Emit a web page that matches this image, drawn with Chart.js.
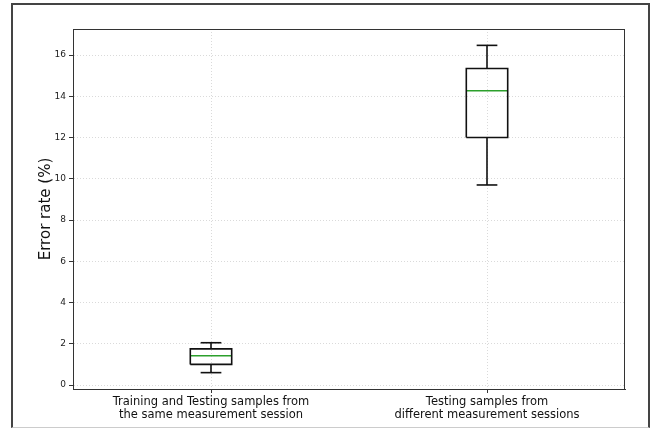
<!DOCTYPE html>
<html>
<head>
<meta charset="utf-8">
<script src="https://cdn.jsdelivr.net/npm/chart.js@4.4.0/dist/chart.umd.min.js"></script>
<style>
  html, body { margin: 0; padding: 0; background: #fff; }
  #wrap { position: relative; width: 655px; height: 430px; overflow: hidden; }
  #frame { position: absolute; left: 11px; top: 3px; width: 635px; height: 422px;
           border: 2px solid #444; border-bottom: 1px solid #ccc; }
  #boxChart { position: absolute; left: 0; top: 0; }
</style>
</head>
<body>
<div id="wrap">
  <div id="frame"></div>
  <canvas id="boxChart" width="655" height="430"></canvas>
</div>
<script>
// Box plot summary values
const categories = [
    ["Training and Testing samples from", "the same measurement session"],
    ["Testing samples from", "different measurement sessions"],
];
const whiskerLow = [0.6, 9.7];
const q1 = [1.0, 12.0];
const median = [1.42, 14.27];
const q3 = [1.75, 15.35];
const whiskerHigh = [2.05, 16.47];
const yTicks = [0, 2, 4, 6, 8, 10, 12, 14, 16];

const BOX_W = 0.15;
const CAP_W = 0.075;

// matplotlib-like autoscale margins
const lo = Math.min(...whiskerLow);
const hi = Math.max(...whiskerHigh);
const pad = 0.05 * (hi - lo);

const datasets = [];
const seg = (pts, color) => datasets.push({
    data: pts,
    showLine: true,
    borderColor: color,
    borderWidth: 1.6,
    pointRadius: 0,
    fill: false,
    tension: 0,
});

categories.forEach((c, i) => {
    const x = i + 1;
    const hb = BOX_W / 2, hc = CAP_W / 2;
    // box
    seg([
        { x: x - hb, y: q1[i] }, { x: x + hb, y: q1[i] },
        { x: x + hb, y: q3[i] }, { x: x - hb, y: q3[i] },
        { x: x - hb, y: q1[i] },
    ], "#111");
    // whiskers
    seg([{ x: x, y: q1[i] }, { x: x, y: whiskerLow[i] }], "#111");
    seg([{ x: x, y: q3[i] }, { x: x, y: whiskerHigh[i] }], "#111");
    // caps
    seg([{ x: x - hc, y: whiskerLow[i] }, { x: x + hc, y: whiskerLow[i] }], "#111");
    seg([{ x: x - hc, y: whiskerHigh[i] }, { x: x + hc, y: whiskerHigh[i] }], "#111");
    // median
    seg([{ x: x - hb, y: median[i] }, { x: x + hb, y: median[i] }], "#2ca02c");
});

// draw the top and right spines too
const frameBox = {
    id: "frameBox",
    afterDraw(chart) {
        const { ctx, chartArea: a } = chart;
        ctx.save();
        ctx.strokeStyle = "#333";
        ctx.lineWidth = 1;
        ctx.strokeRect(a.left + 0.5, a.top + 0.5, a.right - a.left - 1, a.bottom - a.top);
        ctx.restore();
    },
};

const ctx = document.getElementById("boxChart").getContext("2d");
new Chart(ctx, {
    type: "scatter",
    data: { datasets },
    plugins: [frameBox],
    options: {
        responsive: false,
        animation: false,
        layout: { padding: { left: 0, top: 29, right: 30, bottom: 0 } },
        plugins: {
            legend: { display: false },
            tooltip: { enabled: false },
        },
        scales: {
            x: {
                type: "linear",
                min: 0.5,
                max: 2.5,
                afterBuildTicks: (s) => { s.ticks = categories.map((c, i) => ({ value: i + 1 })); },
                afterFit: (s) => { s.height = 41; },
                ticks: {
                    color: "#111",
                    font: { family: "DejaVu Sans", size: 11.5, lineHeight: 1.15 },
                    padding: 2,
                    maxRotation: 0,
                    callback: (v) => categories[v - 1],
                },
                grid: { color: "#dadada", lineWidth: 1, tickLength: 4, tickColor: "#333", tickBorderDash: [] },
                border: { color: "#333", dash: [1, 2] },
            },
            y: {
                min: lo - pad,
                max: hi + pad,
                afterBuildTicks: (s) => { s.ticks = yTicks.map((v) => ({ value: v })); },
                afterFit: (s) => { s.width = 73; },
                ticks: {
                    color: "#222",
                    font: { family: "DejaVu Sans", size: 9 },
                    padding: 3,
                },
                grid: { color: "#dadada", lineWidth: 1, tickLength: 4, tickColor: "#333", tickBorderDash: [] },
                border: { color: "#333", dash: [1, 2] },
                title: {
                    display: true,
                    text: "Error rate (%)",
                    color: "#111",
                    font: { family: "DejaVu Sans", size: 15 },
                    padding: { top: 37, bottom: 0 },
                },
            },
        },
    },
});
</script>
</body>
</html>
